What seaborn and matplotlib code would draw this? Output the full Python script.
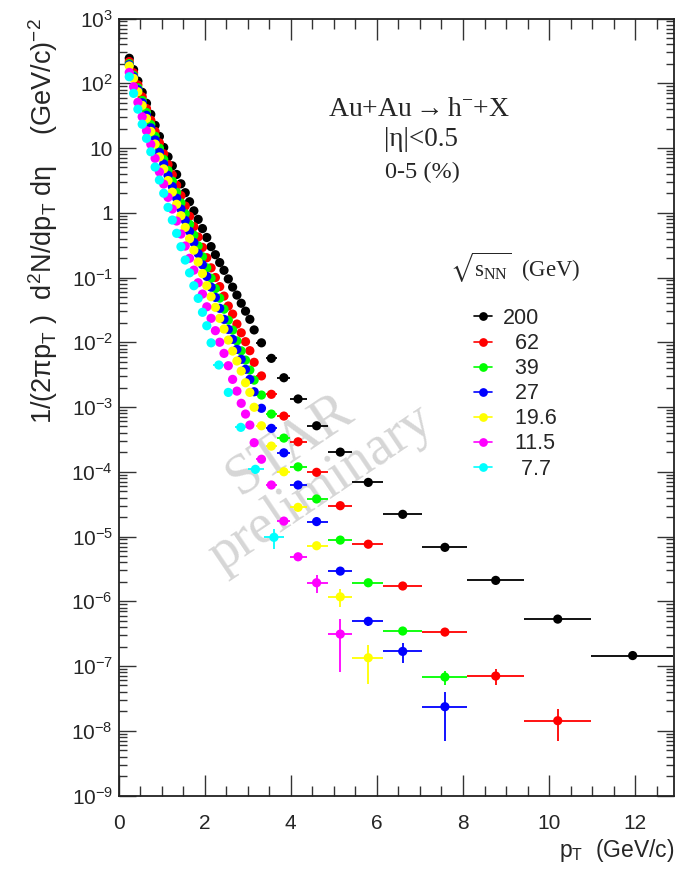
import numpy as np
import pandas as pd
import matplotlib
matplotlib.use("Agg")
import matplotlib.pyplot as plt
import seaborn as sns
from matplotlib.lines import Line2D
from matplotlib.ticker import FixedLocator, FuncFormatter, NullFormatter

# ---------------- data ----------------
energies = ["200", "62", "39", "27", "19.6", "11.5", "7.7"]
legend_labels = ["200", "  62", "  39", "  27", "  19.6", "  11.5", "   7.7"]
colors = ["#000000", "#ff0000", "#00ff00", "#0000ff", "#ffff00", "#ff00ff", "#00ffff"]

pt_fine = [0.25, 0.35, 0.45, 0.55, 0.65, 0.75, 0.85, 0.95, 1.05, 1.15,
           1.25, 1.35, 1.45, 1.55, 1.65, 1.75, 1.85, 1.95, 2.05, 2.15,
           2.25, 2.35, 2.45, 2.55, 2.65, 2.75, 2.85, 2.95, 3.05, 3.15]
pt_coarse = [3.32, 3.55, 3.84, 4.17, 4.6, 5.15, 5.8, 6.6, 7.58, 8.76, 10.2, 11.94]
coarse_lo = [3.2, 3.43, 3.68, 3.98, 4.38, 4.86, 5.43, 6.14, 7.05, 8.1, 9.42, 10.98]
coarse_hi = [3.43, 3.68, 3.98, 4.38, 4.86, 5.43, 6.14, 7.05, 8.1, 9.42, 10.98, 12.87]

pt_cyan_coarse = [2.33, 2.55, 2.84, 3.18, 3.61]
cyan_lo = [2.2, 2.45, 2.7, 3.0, 3.38]
cyan_hi = [2.45, 2.7, 3.0, 3.38, 3.85]

y200 = [243, 162, 108, 72.4, 49.0, 33.1, 22.4, 15.1, 10.2, 7.3,
        5.3, 3.9, 2.8, 2.04, 1.48, 1.07, 0.79, 0.57, 0.415, 0.30,
        0.225, 0.170, 0.129, 0.095, 0.071, 0.0535, 0.040, 0.0302, 0.0226, 0.0155,
        9.8e-3, 5.64e-3, 2.83e-3, 1.33e-3, 5.13e-4, 2.01e-4, 6.85e-5, 2.2e-5,
        6.8e-6, 2.1e-6, 5.3e-7, 1.45e-7]
y62 = [216, 145, 94.4, 61.7, 40.7, 26.9, 18.0, 12.0, 8.13, 5.56,
       3.85, 2.66, 1.84, 1.27, 0.881, 0.610, 0.422, 0.292, 0.202, 0.141,
       0.100, 0.0724, 0.0516, 0.0363, 0.0272, 0.0191, 0.0140, 0.0102, 0.00741, 0.0049,
       3.02e-3, 1.57e-3, 7.24e-4, 2.9e-4, 9.8e-5, 2.99e-5, 7.6e-6, 1.72e-6,
       3.34e-7, 7.0e-8, 1.43e-8]
y39 = [201, 133, 85.0, 54.3, 35.4, 23.0, 15.2, 9.96, 6.67, 4.50,
       3.08, 2.07, 1.42, 0.965, 0.661, 0.451, 0.308, 0.209, 0.141, 0.0973,
       0.0675, 0.048, 0.0324, 0.0219, 0.0154, 0.0105, 0.00736, 0.0053, 0.00372, 0.0026,
       1.53e-3, 7.78e-4, 3.31e-4, 1.19e-4, 3.8e-5, 8.8e-6, 1.93e-6, 3.47e-7, 6.76e-8]
y27 = [193, 126, 79.5, 50.0, 32.0, 20.5, 13.3, 8.57, 5.67, 3.78,
       2.54, 1.68, 1.14, 0.762, 0.516, 0.347, 0.234, 0.157, 0.104, 0.0710,
       0.0493, 0.0334, 0.0226, 0.0158, 0.0111, 0.00776, 0.00545, 0.00382, 0.00267, 0.00172,
       9.55e-4, 4.68e-4, 1.96e-4, 6.24e-5, 1.7e-5, 2.92e-6, 4.9e-7, 1.68e-7, 2.35e-8]
y19 = [185, 119, 73.9, 45.5, 28.6, 18.0, 11.5, 7.28, 4.76, 3.14,
       2.08, 1.35, 0.90, 0.594, 0.397, 0.264, 0.174, 0.115, 0.0749, 0.0505,
       0.0346, 0.0234, 0.016, 0.0108, 0.00731, 0.00513, 0.00359, 0.00237, 0.00168, 0.00099,
       5.13e-4, 2.49e-4, 1.0e-4, 2.82e-5, 7.2e-6, 1.17e-6, 1.34e-7]
y11 = [147, 88.3, 50.7, 30.4, 18.5, 11.4, 6.92, 4.27, 2.77, 1.73,
       1.14, 0.745, 0.469, 0.306, 0.198, 0.130, 0.083, 0.0555, 0.0353, 0.0234,
       0.0151, 0.0100, 0.00673, 0.00434, 0.00267, 0.00176, 0.00114, 7.78e-4, 5.26e-4, 2.81e-4,
       1.56e-4, 6.24e-5, 1.73e-5, 4.86e-6, 1.93e-6, 3.11e-7]
y7 = [126, 69.8, 39.8, 23.3, 14.1, 8.75, 5.08, 3.20, 2.00, 1.21,
      0.771, 0.481, 0.299, 0.186, 0.118, 0.0746, 0.0476, 0.029, 0.018, 0.0098,
      4.45e-3, 1.68e-3, 4.85e-4, 1.09e-4, 9.7e-6]

# relative vertical errors of the coarse-bin points
rel200 = [0.03, 0.03, 0.04, 0.04, 0.05, 0.05, 0.06, 0.06, 0.07, 0.08, 0.10, 0.12]
rel62 = [0.03, 0.04, 0.04, 0.05, 0.05, 0.06, 0.07, 0.09, 0.12, 0.27, 0.52]
rel39 = [0.04, 0.04, 0.05, 0.06, 0.07, 0.08, 0.10, 0.14, 0.25]
rel27 = [0.04, 0.05, 0.05, 0.06, 0.08, 0.10, 0.15, 0.34, 0.70]
rel19 = [0.05, 0.06, 0.07, 0.10, 0.12, 0.30, 0.60]
rel11 = [0.05, 0.07, 0.10, 0.15, 0.30, 0.74]
rel7 = [0.05, 0.07, 0.10, 0.15, 0.35]
rel_fine = 0.02

yields = [y200, y62, y39, y27, y19, y11, y7]
rels = [rel200, rel62, rel39, rel27, rel19, rel11, rel7]

# ---------------- build table ----------------
rows = []
for e, y, rel in zip(energies, yields, rels):
    if e == "7.7":
        nfine = len(y) - len(pt_cyan_coarse)
        pts = pt_fine[:nfine] + pt_cyan_coarse
        lo = [p - 0.05 for p in pt_fine[:nfine]] + cyan_lo
        hi = [p + 0.05 for p in pt_fine[:nfine]] + cyan_hi
    else:
        nco = len(y) - len(pt_fine)
        pts = pt_fine + pt_coarse[:nco]
        lo = [p - 0.05 for p in pt_fine] + coarse_lo[:nco]
        hi = [p + 0.05 for p in pt_fine] + coarse_hi[:nco]
    nf = len(y) - len(rel)
    r = [rel_fine] * nf + rel
    for p, v, l, h, rr in zip(pts, y, lo, hi, r):
        rows.append(dict(energy=e, pt=p, yld=v, xl=p - l, xh=h - p, ye=v * rr))
df = pd.DataFrame(rows)

# ---------------- style ----------------
sns.set_theme(style="ticks")
plt.rcParams["font.family"] = ["Liberation Sans", "DejaVu Sans"]
plt.rcParams["mathtext.fontset"] = "stix"
plt.rcParams["mathtext.default"] = "regular"

fig = plt.figure(figsize=(6.85, 8.73), dpi=100)
ax = fig.add_axes([118.5 / 685, 1 - 795.5 / 873, 555.5 / 685, 777 / 873])

palette = dict(zip(energies, colors))

# error bars
for e, c in zip(energies, colors):
    d = df[df.energy == e]
    ax.errorbar(d.pt, d.yld, xerr=[d.xl, d.xh], yerr=d.ye, fmt="none",
                ecolor=c, elinewidth=1.3, capsize=0, zorder=2)

sns.scatterplot(data=df, x="pt", y="yld", hue="energy", palette=palette,
                s=44, linewidth=0, legend=False, ax=ax, zorder=3)

ax.set_yscale("log")
ax.set_xlim(0, 12.9)
ax.set_ylim(1e-9, 1e3)

# ticks
ax.xaxis.set_major_locator(FixedLocator([0, 2, 4, 6, 8, 10, 12]))
ax.xaxis.set_minor_locator(FixedLocator([i * 0.5 for i in range(26)]))
ax.yaxis.set_major_locator(FixedLocator([10.0 ** k for k in range(-9, 4)]))
ax.yaxis.set_minor_locator(FixedLocator([m * 10.0 ** k for k in range(-9, 3) for m in range(2, 10)]))
ax.yaxis.set_minor_formatter(NullFormatter())


def yfmt(v, pos):
    k = int(round(np.log10(v)))
    if k == 0:
        return "1"
    if k == 1:
        return "10"
    return r"$10^{%d}$" % k


ax.yaxis.set_major_formatter(FuncFormatter(yfmt))
ax.tick_params(axis="both", which="both", direction="in", top=True, right=True,
               color="#333333", width=1.0)
ax.tick_params(axis="x", which="major", length=15, labelsize=15, pad=13)
ax.tick_params(axis="x", which="minor", length=7.5)
ax.tick_params(axis="y", which="major", length=12, labelsize=15, pad=4)
ax.tick_params(axis="y", which="minor", length=6)
for s in ax.spines.values():
    s.set_linewidth(1.3)
    s.set_color("#222222")

ax.set_xlabel(r"p$_{T}$  (GeV/c)", fontsize=16.5, loc="right")
ax.xaxis.set_label_coords(1.0, -0.054)
ax.set_ylabel(r"1/(2πp$_{T}$ )  d$^{2}$N/dp$_{T}$ dη    (GeV/c)$^{-2}$", fontsize=19.5, loc="top")
ax.yaxis.set_label_coords(-0.106, 1.0)

# annotation text
serif = ["Liberation Serif", "DejaVu Serif"]
fig.text(419 / 685, 1 - 110 / 873, r"Au+Au$\rightarrow$h$^{-}$+X", ha="center", va="center",
         fontsize=20, family=serif)
fig.text(421 / 685, 1 - 140 / 873, "|η|<0.5", ha="center", va="center", fontsize=19.5, family=serif)
fig.text(422 / 685, 1 - 172 / 873, "0-5 (%)", ha="center", va="center", fontsize=17.5, family=serif)
fig.text(515 / 685, 1 - 268 / 873, r"$\sqrt{s_{NN}}$  (GeV)", ha="center", va="center",
         fontsize=16.5, family=serif)

# watermark
ax.text((290 - 118.5) / 555.5, (795.5 - 445) / 777, "STAR", transform=ax.transAxes,
        rotation=34, ha="center", va="center", fontsize=41, color="#d6d6d6",
        family=serif, zorder=1)
ax.text((321 - 118.5) / 555.5, (795.5 - 488) / 777, "preliminary", transform=ax.transAxes,
        rotation=34, ha="center", va="center", fontsize=40, color="#d6d6d6",
        family=serif, zorder=1)

# legend
handles = [Line2D([0], [0], color=c, marker="o", markersize=6.3, lw=1.2, markeredgewidth=0)
           for c in colors]
leg = ax.legend(handles, legend_labels, loc="upper left",
                bbox_to_anchor=(474 / 685, 1 - 308 / 873), bbox_transform=fig.transFigure,
                frameon=False, fontsize=15.5, handlelength=0.85, handletextpad=0.5,
                labelspacing=0.19, borderpad=0, borderaxespad=0)

fig.savefig("out.png", dpi=100)
